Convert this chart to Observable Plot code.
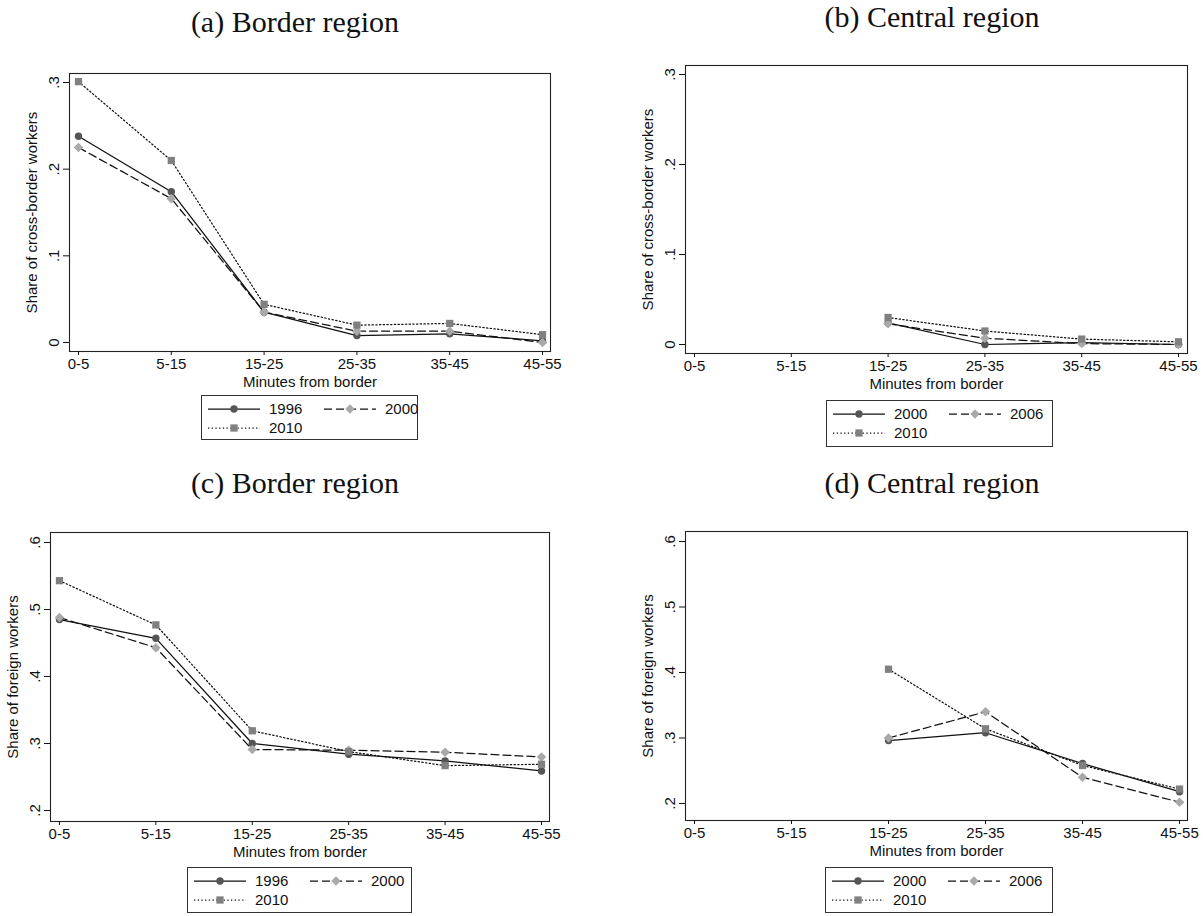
<!DOCTYPE html>
<html><head><meta charset="utf-8">
<script src="https://cdn.jsdelivr.net/npm/d3@7"></script>
<script src="https://cdn.jsdelivr.net/npm/@observablehq/plot@0.6"></script>
<style>
body{margin:0;background:#fff;}
#root{position:relative;width:1203px;height:916px;overflow:hidden;background:#fff;font-family:"Liberation Sans",Arial,sans-serif;color:#000;}
.title{position:absolute;font-family:"Liberation Serif","Times New Roman",serif;font-size:30px;transform:translate(-50%,-50%);white-space:nowrap;color:#111;}
.panel{position:absolute;}
.legend{position:absolute;border:1px solid #333;box-sizing:border-box;font-size:15px;background:#fff;color:#111;}
.item{position:absolute;display:flex;align-items:center;white-space:nowrap;}
.item svg{margin-right:9px;}
</style></head><body><div id="root"></div>
<script>
// ---- data ----
const categories = ["0-5", "5-15", "15-25", "25-35", "35-45", "45-55"];
const xTitle = "Minutes from border";

// (a) Border region: share of cross-border workers
const crossBorder1996 = [0.238, 0.174, 0.035, 0.008, 0.010, 0.002];
const crossBorder2000 = [0.225, 0.166, 0.035, 0.013, 0.013, 0.000];
const crossBorder2010 = [0.301, 0.210, 0.044, 0.020, 0.022, 0.009];

// (b) Central region: share of cross-border workers
const crossCentral2000 = [null, null, 0.024, 0.000, 0.002, 0.000];
const crossCentral2006 = [null, null, 0.023, 0.007, 0.001, 0.000];
const crossCentral2010 = [null, null, 0.030, 0.015, 0.006, 0.003];

// (c) Border region: share of foreign workers
const foreignBorder1996 = [0.485, 0.457, 0.300, 0.284, 0.274, 0.259];
const foreignBorder2000 = [0.488, 0.443, 0.291, 0.290, 0.287, 0.280];
const foreignBorder2010 = [0.543, 0.477, 0.319, 0.288, 0.267, 0.269];

// (d) Central region: share of foreign workers
const foreignCentral2000 = [null, null, 0.296, 0.308, 0.261, 0.218];
const foreignCentral2006 = [null, null, 0.300, 0.340, 0.240, 0.202];
const foreignCentral2010 = [null, null, 0.405, 0.314, 0.258, 0.222];

const yTicksCross = [0, 0.1, 0.2, 0.3];
const yTicksForeign = [0.2, 0.3, 0.4, 0.5, 0.6];

// ---- styles ----
const seriesStyles = [
  {dash: null, symbol: "circle", fill: "#555555", r: 3.7},
  {dash: "8,4", symbol: "diamond2", fill: "#a9a9a9", r: 4.3},
  {dash: "1.3,2.4", symbol: "square", fill: "#808080", r: 4.1}
];

const panels = [
  {title: "(a) Border region", tx: 295, ty: 22, left: 0, top: 40, width: 570, height: 360,
   m: [33, 20, 49, 69], xdom: [-0.097, 5.086], ydom: [-0.0104, 0.3104], yTicks: yTicksCross,
   ylabel: "Share of cross-border workers",
   series: [["1996", crossBorder1996], ["2000", crossBorder2000], ["2010", crossBorder2010]],
   legend: {x: 201, y: 395, w: 217, h: 45}},
  {title: "(b) Central region", tx: 932, ty: 17, left: 620, top: 40, width: 583, height: 360,
   m: [25, 16, 47, 65], xdom: [-0.093, 5.093], ydom: [-0.01, 0.31], yTicks: yTicksCross,
   ylabel: "Share of cross-border workers",
   series: [["2000", crossCentral2000], ["2006", crossCentral2006], ["2010", crossCentral2010]],
   legend: {x: 826, y: 400, w: 227, h: 47}},
  {title: "(c) Border region", tx: 295, ty: 483, left: 0, top: 500, width: 570, height: 360,
   m: [32, 21, 39, 50], xdom: [-0.093, 5.083], ydom: [0.1836, 0.6149], yTicks: yTicksForeign,
   ylabel: "Share of foreign workers",
   series: [["1996", foreignBorder1996], ["2000", foreignBorder2000], ["2010", foreignBorder2010]],
   legend: {x: 187, y: 867, w: 225, h: 46}},
  {title: "(d) Central region", tx: 932, ty: 483, left: 620, top: 500, width: 583, height: 360,
   m: [31, 16, 40, 65], xdom: [-0.093, 5.082], ydom: [0.174, 0.6153], yTicks: yTicksForeign,
   ylabel: "Share of foreign workers",
   series: [["2000", foreignCentral2000], ["2006", foreignCentral2006], ["2010", foreignCentral2010]],
   legend: {x: 825, y: 867, w: 228, h: 46}}
];

const fmtY = d => d === 0 ? "0" : d3.format(".1f")(d).replace(/^0/, "");
const root = document.getElementById("root");

for (const p of panels) {
  const t = document.createElement("div");
  t.className = "title"; t.textContent = p.title;
  t.style.left = p.tx + "px"; t.style.top = p.ty + "px";
  root.appendChild(t);

  const marks = [];
  p.series.forEach(([name, values], k) => {
    const st = seriesStyles[k];
    const data = values.map((v, i) => ({i, cat: categories[i], v, series: name})).filter(d => d.v != null);
    marks.push(Plot.line(data, {x: "i", y: "v", stroke: "#111", strokeWidth: 1.25,
      strokeDasharray: st.dash || undefined}));
    marks.push(Plot.dot(data, {x: "i", y: "v", symbol: st.symbol, fill: st.fill, r: st.r, stroke: "none"}));
  });
  marks.push(Plot.frame({stroke: "#222", strokeWidth: 1.1}));
  marks.push(Plot.axisX({ticks: [0, 1, 2, 3, 4, 5], tickFormat: i => categories[i], tickSize: 4, tickPadding: 3,
    label: xTitle, labelAnchor: "center", labelOffset: 35, labelArrow: "none"}));
  marks.push(Plot.axisY({ticks: p.yTicks, tickFormat: fmtY, tickRotate: -90, tickSize: 6, tickPadding: 5,
    label: p.ylabel, labelAnchor: "center", labelOffset: 43, labelArrow: "none"}));

  const chart = Plot.plot({
    width: p.width, height: p.height,
    marginTop: p.m[0], marginRight: p.m[1], marginBottom: p.m[2], marginLeft: p.m[3],
    x: {type: "linear", domain: p.xdom},
    y: {type: "linear", domain: p.ydom},
    style: {fontSize: "15px", fontFamily: "'Liberation Sans', Arial, sans-serif", color: "#111", background: "transparent", overflow: "visible"},
    marks
  });
  const wrap = document.createElement("div");
  wrap.className = "panel";
  wrap.style.left = p.left + "px"; wrap.style.top = p.top + "px";
  wrap.appendChild(chart);
  root.appendChild(wrap);

  // legend
  const lg = document.createElement("div");
  lg.className = "legend";
  Object.assign(lg.style, {left: p.legend.x + "px", top: p.legend.y + "px", width: p.legend.w + "px", height: p.legend.h + "px"});
  p.series.forEach(([name], k) => {
    const st = seriesStyles[k];
    const it = document.createElement("div");
    it.className = "item";
    it.style.left = (6 + (k % 2) * 116) + "px";
    it.style.top = (4 + Math.floor(k / 2) * 19) + "px";
    const ns = "http://www.w3.org/2000/svg";
    const svg = document.createElementNS(ns, "svg");
    svg.setAttribute("width", 52); svg.setAttribute("height", 14);
    const ln = document.createElementNS(ns, "line");
    ln.setAttribute("x1", 0); ln.setAttribute("x2", 52); ln.setAttribute("y1", 7); ln.setAttribute("y2", 7);
    ln.setAttribute("stroke", "#111"); ln.setAttribute("stroke-width", 1.25);
    if (st.dash) ln.setAttribute("stroke-dasharray", st.dash);
    svg.appendChild(ln);
    const sym = document.createElementNS(ns, "path");
    const area = Math.PI * st.r * st.r;
    const symType = st.symbol === "circle" ? d3.symbolCircle : st.symbol === "square" ? d3.symbolSquare : d3.symbolDiamond2;
    sym.setAttribute("d", d3.symbol(symType, area)());
    sym.setAttribute("transform", "translate(26,7)");
    sym.setAttribute("fill", st.fill);
    svg.appendChild(sym);
    it.appendChild(svg);
    const sp = document.createElement("span");
    sp.textContent = name;
    it.appendChild(sp);
    lg.appendChild(it);
  });
  root.appendChild(lg);
}
</script>
</body></html>
